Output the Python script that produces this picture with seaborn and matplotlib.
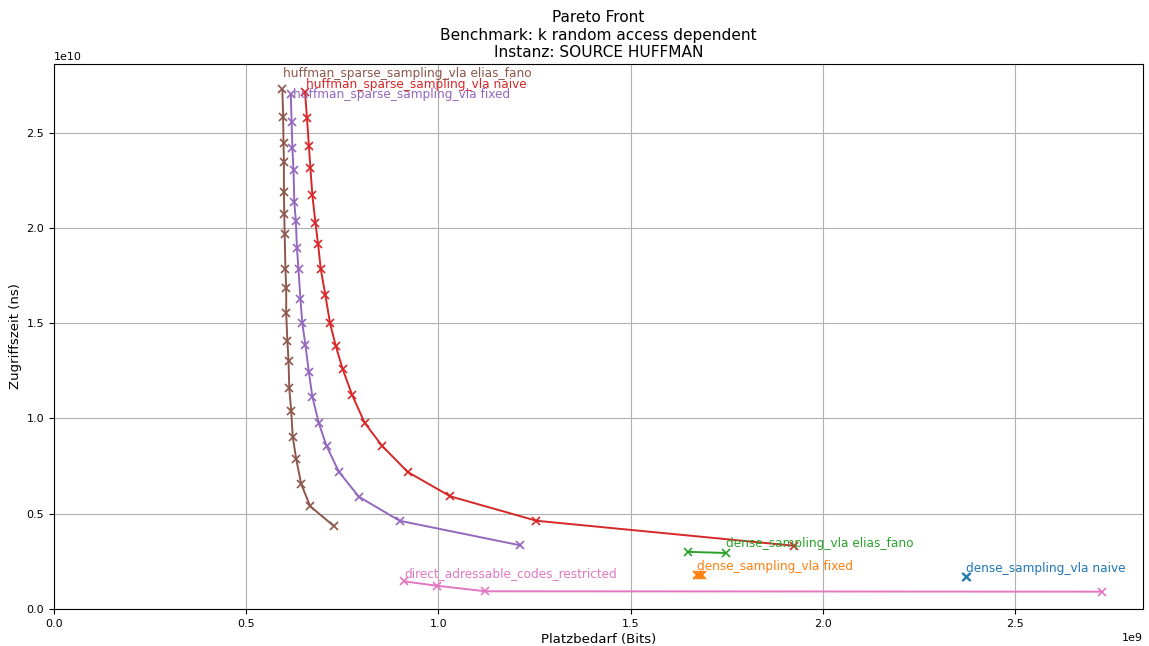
import matplotlib
matplotlib.use("Agg")
import matplotlib.pyplot as plt
import numpy as np
import pandas as pd
import seaborn as sns

# Space (bits, 1e9) and access time (ns, 1e10) for each configuration
naive_dense_x = [2.372, 2.375]
naive_dense_y = [0.168, 0.167]

fixed_dense_x = [1.672, 1.676, 1.681, 1.686]
fixed_dense_y = [0.178, 0.178, 0.177, 0.177]

ef_dense_x = [1.648, 1.747]
ef_dense_y = [0.300, 0.294]

naive_huff_x = [0.653, 0.658, 0.663, 0.667, 0.672, 0.680, 0.687, 0.694, 0.706, 0.718,
                0.733, 0.751, 0.776, 0.808, 0.853, 0.920, 1.031, 1.255, 1.924]
naive_huff_y = [2.711, 2.578, 2.429, 2.312, 2.172, 2.027, 1.913, 1.782, 1.646, 1.499,
                1.380, 1.258, 1.121, 0.977, 0.857, 0.719, 0.591, 0.463, 0.332]

fixed_huff_x = [0.616, 0.618, 0.620, 0.623, 0.625, 0.629, 0.632, 0.636, 0.641, 0.646,
                0.654, 0.663, 0.672, 0.689, 0.709, 0.741, 0.793, 0.899, 1.213]
fixed_huff_y = [2.700, 2.557, 2.420, 2.303, 2.137, 2.037, 1.892, 1.782, 1.625, 1.499,
                1.385, 1.242, 1.114, 0.974, 0.855, 0.720, 0.589, 0.463, 0.334]

ef_huff_x = [0.594, 0.596, 0.597, 0.598, 0.598, 0.599, 0.600, 0.602, 0.604, 0.604,
             0.607, 0.610, 0.612, 0.617, 0.621, 0.630, 0.643, 0.666, 0.728]
ef_huff_y = [2.728, 2.583, 2.443, 2.347, 2.189, 2.072, 1.966, 1.782, 1.686, 1.551,
             1.408, 1.303, 1.158, 1.039, 0.904, 0.787, 0.656, 0.540, 0.435]

dac_x = [0.911, 0.996, 1.122, 2.726]
dac_y = [0.145, 0.122, 0.093, 0.091]

series_names = [
    "dense_sampling_vla naive",
    "dense_sampling_vla fixed",
    "dense_sampling_vla elias_fano",
    "huffman_sparse_sampling_vla naive",
    "huffman_sparse_sampling_vla fixed",
    "huffman_sparse_sampling_vla elias_fano",
    "direct_adressable_codes_restricted",
]
series_x = [naive_dense_x, fixed_dense_x, ef_dense_x, naive_huff_x, fixed_huff_x, ef_huff_x, dac_x]
series_y = [naive_dense_y, fixed_dense_y, ef_dense_y, naive_huff_y, fixed_huff_y, ef_huff_y, dac_y]

frames = []
for name, xs, ys in zip(series_names, series_x, series_y):
    frames.append(pd.DataFrame({
        "name": name,
        "space": np.array(xs) * 1e9,
        "time": np.array(ys) * 1e10,
    }))
df = pd.concat(frames, ignore_index=True)

palette = dict(zip(series_names, sns.color_palette("tab10", len(series_names))))

plt.rcParams["xtick.labelsize"] = 8
plt.rcParams["ytick.labelsize"] = 8

fig = plt.figure(figsize=(11.49, 6.46), dpi=100)
ax = fig.add_axes([54 / 1149, 1 - 609 / 646, (1143 - 54) / 1149, (609 - 64) / 646])

sns.lineplot(data=df, x="space", y="time", hue="name", hue_order=series_names,
             palette=palette, units="name", estimator=None, sort=False,
             marker="x", markersize=5.5, linewidth=1.4, legend=False, ax=ax)

for line in ax.lines:
    line.set_markeredgecolor(line.get_color())
    line.set_markeredgewidth(1.2)

# Label each curve next to one of its points (index, offset in points)
label_anchor = {
    "dense_sampling_vla naive": (0, (0, 3.6)),
    "dense_sampling_vla fixed": (0, (0, 3.6)),
    "dense_sampling_vla elias_fano": (1, (0, 4.3)),
    "huffman_sparse_sampling_vla naive": (0, (0.7, 3.1)),
    "huffman_sparse_sampling_vla fixed": (0, (1.6, -2.5)),
    "huffman_sparse_sampling_vla elias_fano": (0, (0.5, 8.9)),
    "direct_adressable_codes_restricted": (0, (0, 3.3)),
}
for name, xs, ys in zip(series_names, series_x, series_y):
    idx, off = label_anchor[name]
    ax.annotate(name, xy=(xs[idx] * 1e9, ys[idx] * 1e10), xytext=off,
                textcoords="offset points", ha="left", va="baseline",
                fontsize=8.75, color=palette[name])

ax.set_xlim(left=0)
ax.set_ylim(bottom=0)
ax.grid(True, color="#b0b0b0", linewidth=0.8)
ax.set_axisbelow(True)
ax.xaxis.get_offset_text().set_fontsize(8)
ax.yaxis.get_offset_text().set_fontsize(8)
ax.set_xlabel("Platzbedarf (Bits)", fontsize=9.5, labelpad=3)
ax.set_ylabel("Zugriffszeit (ns)", fontsize=9.5, labelpad=3)
ax.set_title("Pareto Front\nBenchmark: k random access dependent\nInstanz: SOURCE HUFFMAN",
             fontsize=11.1, pad=5)

fig.savefig("out.png", dpi=100)
